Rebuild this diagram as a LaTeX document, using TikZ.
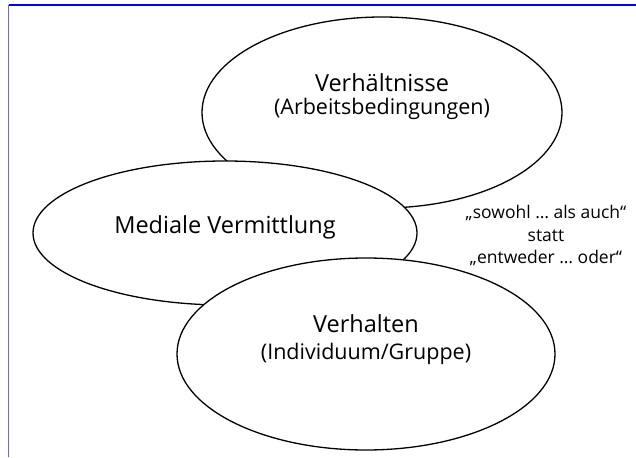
\documentclass[tikz,border=0pt]{standalone}
\usepackage{fontspec}
\setmainfont{Open Sans}
\usetikzlibrary{shapes.geometric}
\begin{document}
\begin{tikzpicture}[x=1pt,y=-1pt,
  oval/.style={ellipse, draw=black, line width=1.3pt, fill=white, inner sep=0pt},
  bigtxt/.style={font=\fontsize{23.5}{28}\selectfont, anchor=base, inner sep=0pt},
  subtxt/.style={font=\fontsize{21.5}{26}\selectfont, anchor=base, inner sep=0pt},
  notetxt/.style={font=\fontsize{17.5}{22}\selectfont, anchor=base, inner sep=0pt},
  framel/.style={line width=1.3pt}]
\useasboundingbox (0,0) rectangle (636,457);
\draw[framel, draw=blue] (8.5,5) -- (636,5);
\draw[framel, draw=blue!60] (8.5,5) -- (8.5,457);
\node[oval, minimum width=360pt, minimum height=191pt] (top) at (382,112.5) {};
\node[oval, minimum width=384pt, minimum height=144pt] (mid) at (225,233) {};
\node[oval, minimum width=378pt, minimum height=192pt] (bot) at (366,354) {};
\node[bigtxt] (t1) at (382,92) {Verhältnisse};
\node[subtxt] (t2) at (382,115) {(Arbeitsbedingungen)};
\node[bigtxt] (m1) at (225,233) {Mediale Vermittlung};
\node[bigtxt] (b1) at (366,332) {Verhalten};
\node[subtxt] (b2) at (366,359) {(Individuum/Gruppe)};
\node[notetxt] (n1) at (546,218) {„sowohl … als auch“};
\node[notetxt] (n2) at (546,241) {statt};
\node[notetxt] (n3) at (546,263) {„entweder … oder“};
\end{tikzpicture}
\end{document}
